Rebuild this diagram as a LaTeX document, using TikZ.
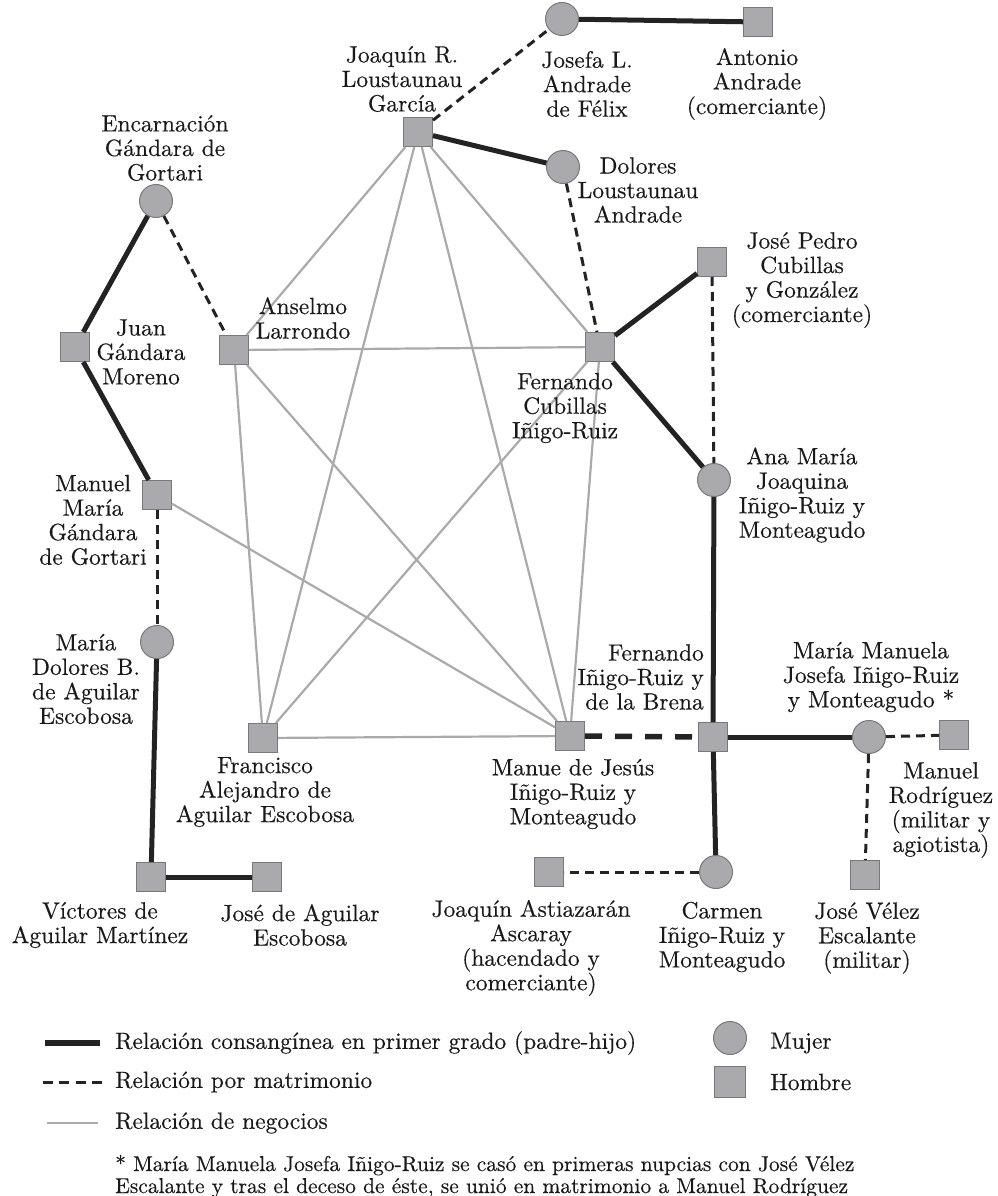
\documentclass[tikz,border=0pt]{standalone}
\usepackage{fontspec}
\setmainfont{lmroman10-regular.otf}[FakeBold=0.4]
\definecolor{fillg}{RGB}{170,170,172}
\definecolor{bdr}{RGB}{120,120,120}
\definecolor{bizc}{RGB}{170,170,170}
\definecolor{linec}{RGB}{35,35,35}
\newcommand\lbfont{\fontsize{23.5}{24.5}\selectfont}
\newcommand\lgfont{\fontsize{23.5}{22}\selectfont}
\newcommand\fnfont{\fontsize{21.5}{22}\selectfont}
\tikzset{
  man/.style={draw=bdr, fill=fillg, minimum size=29pt, inner sep=0pt, line width=1pt},
  woman/.style={circle, draw=bdr, fill=fillg, minimum size=33pt, inner sep=0pt, line width=1pt},
  lbl/.style={align=center, font=\lbfont, inner sep=0pt, text=black!90},
  lgtext/.style={anchor=west, font=\lgfont, inner sep=0pt, text=black!90},
  fntext/.style={anchor=base west, font=\fnfont, inner sep=0pt, text=black!90},
  blood/.style={line width=5pt, draw=linec},
  marr/.style={line width=3pt, draw=linec, dash pattern=on 9pt off 6pt},
  marrthick/.style={line width=5.5pt, draw=linec, dash pattern=on 17pt off 13pt},
  biz/.style={line width=2.2pt, draw=bizc},
}
\begin{document}
\begin{tikzpicture}[x=1pt,y=-1pt]
\useasboundingbox (0,0) rectangle (997,1196);
% persons
\node[woman] (josefa) at (562,19) {};
\node[man] (antonio) at (758,22) {};
\node[man] (joaquin) at (418,132) {};
\node[woman] (dolores) at (563,167) {};
\node[woman] (encar) at (156,201) {};
\node[man] (anselmo) at (234,350) {};
\node[man] (juan) at (75,347) {};
\node[man] (fercub) at (600,347) {};
\node[man] (josepedro) at (712,262) {};
\node[woman] (ana) at (714,480) {};
\node[man] (manuelmaria) at (157,495) {};
\node[woman] (mdolores) at (157,642) {};
\node[man] (francisco) at (263,738) {};
\node[man] (manue) at (570,736) {};
\node[man] (feri) at (713,737) {};
\node[woman] (mmanuela) at (869,737) {};
\node[man] (mrodriguez) at (954,735) {};
\node[man] (astiazaran) at (549,872) {};
\node[woman] (carmen) at (716,872) {};
\node[man] (jvelez) at (865,875) {};
\node[man] (victores) at (151,877) {};
\node[man] (jaguilar) at (267,877) {};
% business
\draw[biz] (joaquin) -- (anselmo);
\draw[biz] (joaquin) -- (francisco);
\draw[biz] (joaquin) -- (manue);
\draw[biz] (joaquin) -- (fercub);
\draw[biz] (anselmo) -- (fercub);
\draw[biz] (anselmo) -- (francisco);
\draw[biz] (anselmo) -- (manue);
\draw[biz] (fercub) -- (francisco);
\draw[biz] (fercub) -- (manue);
\draw[biz] (francisco) -- (manue);
\draw[biz] (manuelmaria) -- (manue);
% blood
\draw[blood] (josefa) -- (antonio);
\draw[blood] (joaquin) -- (dolores);
\draw[blood] (encar) -- (juan);
\draw[blood] (juan) -- (manuelmaria);
\draw[blood] (fercub) -- (josepedro);
\draw[blood] (fercub) -- (ana);
\draw[blood] (ana) -- (feri);
\draw[blood] (feri) -- (carmen);
\draw[blood] (feri) -- (mmanuela);
\draw[blood] (mdolores) -- (victores);
\draw[blood] (victores) -- (jaguilar);
% marriage
\draw[marr] (joaquin) -- (josefa);
\draw[marr] (dolores) -- (fercub);
\draw[marr] (encar) -- (anselmo);
\draw[marr] (josepedro) -- (ana);
\draw[marr] (manuelmaria) -- (mdolores);
\draw[marrthick] (manue) -- (feri);
\draw[marr] (carmen) -- (astiazaran);
\draw[marr] (mmanuela) -- (mrodriguez);
\draw[marr] (mmanuela) -- (jvelez);
% labels
\node[lbl] (l-josefa) at (587,84) {Josefa L.\\Andrade\\de Félix};
\node[lbl] (l-antonio) at (757,84) {Antonio\\Andrade\\(comerciante)};
\node[lbl] (l-joaquin) at (402,79) {Joaquín R.\\Loustaunau\\García};
\node[lbl] (l-dolores) at (638,190) {Dolores\\Loustaunau\\Andrade};
\node[lbl] (l-encar) at (165,148) {Encarnación\\Gándara de\\Gortari};
\node[lbl] (l-anselmo) at (303,318) {Anselmo\\Larrondo};
\node[lbl] (l-juan) at (141,352) {Juan\\Gándara\\Moreno};
\node[lbl] (l-josepedro) at (802,280) {José Pedro\\Cubillas\\y González\\(comerciante)};
\node[lbl] (l-fercub) at (565,408) {Fernando\\Cubillas\\Iñigo-Ruiz};
\node[lbl] (l-ana) at (802,495) {Ana María\\Joaquina\\Iñigo-Ruiz y\\Monteagudo};
\node[lbl] (l-manuelmaria) at (93,520) {Manuel\\María\\Gándara\\de Gortari};
\node[lbl] (l-mdolores) at (86,679) {María\\Dolores B.\\de Aguilar\\Escobosa};
\node[lbl] (l-francisco) at (265,792) {Francisco\\Alejandro de\\Aguilar Escobosa};
\node[lbl] (l-victores) at (100,925) {Víctores de\\Aguilar Martínez};
\node[lbl] (l-jaguilar) at (300,925) {José de Aguilar\\Escobosa};
\node[lbl, align=right, anchor=east] (l-feri) at (704,677) {Fernando\\Iñigo-Ruiz y\\de la Brena};
\node[lbl] (l-mmanuela) at (871,677) {María Manuela\\Josefa Iñigo-Ruiz\\y Monteagudo *};
\node[lbl] (l-manue) at (573,794) {Manue de Jesús\\Iñigo-Ruiz y\\Monteagudo};
\node[lbl] (l-mrodriguez) at (941,810) {Manuel\\Rodríguez\\(militar y\\agiotista)};
\node[lbl] (l-astiazaran) at (531,948) {Joaquín Astiazarán\\Ascaray\\(hacendado y\\comerciante)};
\node[lbl] (l-carmen) at (722,937) {Carmen\\Iñigo-Ruiz y\\Monteagudo};
\node[lbl] (l-jvelez) at (867,938) {José Vélez\\Escalante\\(militar)};
% legend
\coordinate (lg1a) at (45,1043); \coordinate (lg1b) at (100,1043);
\coordinate (lg2a) at (43,1082); \coordinate (lg2b) at (102,1082);
\coordinate (lg3a) at (47,1123); \coordinate (lg3b) at (98,1123);
\draw[line width=6pt, draw=linec] (lg1a) -- (lg1b);
\draw[line width=3pt, draw=linec, dash pattern=on 10pt off 6.3pt] (lg2a) -- (lg2b);
\draw[line width=2.5pt, draw=bizc] (lg3a) -- (lg3b);
\node[lgtext] (t1) at (115,1043) {Relación consangínea en primer grado (padre-hijo)};
\node[lgtext] (t2) at (115,1082) {Relación por matrimonio};
\node[lgtext] (t3) at (115,1123) {Relación de negocios};
\node[woman] (lgw) at (730,1038) {};
\node[man, minimum size=31pt] (lgm) at (730,1082) {};
\node[lgtext] (tw) at (770,1043) {Mujer};
\node[lgtext] (tm) at (770,1082) {Hombre};
\node[fntext] (fn1) at (115,1171) {* María Manuela Josefa Iñigo-Ruiz se casó en primeras nupcias con José Vélez};
\node[fntext] (fn2) at (115,1193) {Escalante y tras el deceso de éste, se unió en matrimonio a Manuel Rodríguez};
\end{tikzpicture}
\end{document}
